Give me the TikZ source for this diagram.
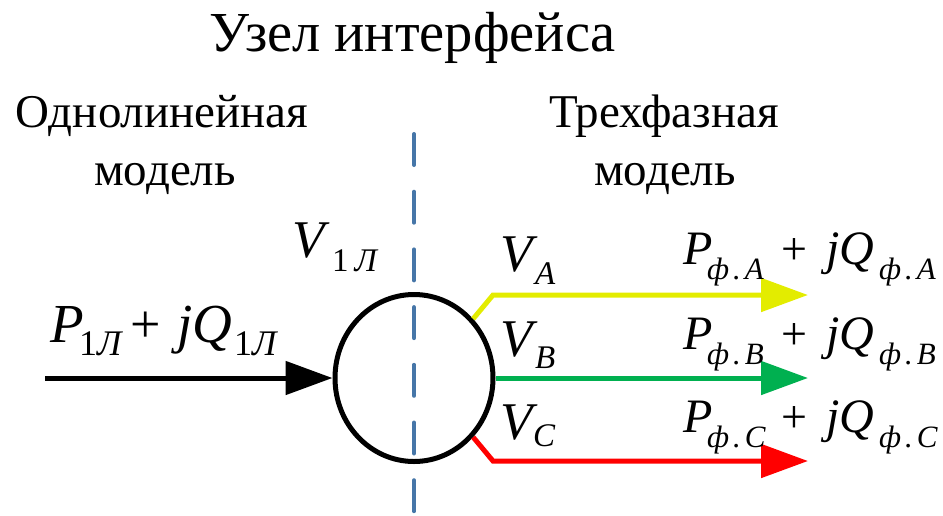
\documentclass[tikz,border=0pt]{standalone}
\usepackage{fontspec}
\setmainfont{Liberation Serif}
\newfontfamily\tnr{Liberation Serif}
\usetikzlibrary{arrows.meta,shapes.geometric}
\definecolor{phA}{HTML}{E3EC00}
\definecolor{phB}{HTML}{00B050}
\definecolor{phC}{HTML}{FF0000}
\definecolor{divblue}{HTML}{4676A8}
\begin{document}
\begin{tikzpicture}[x=1pt,y=-1pt,
  heading/.style={inner sep=0pt, anchor=base, font=\tnr\fontsize{56.5}{60}\selectfont},
  subhead/.style={inner sep=0pt, anchor=base, font=\tnr\fontsize{47}{50}\selectfont},
  vlab/.style={inner sep=0pt, anchor=base west, font=\tnr\fontsize{53}{58}\selectfont\itshape},
  vsub/.style={inner sep=0pt, anchor=base west, font=\tnr\fontsize{33}{36}\selectfont\itshape},
  plab/.style={inner sep=0pt, anchor=base west, font=\tnr\fontsize{48}{52}\selectfont\itshape},
  psub/.style={inner sep=0pt, anchor=base west, font=\tnr\fontsize{31}{34}\selectfont\itshape},
  llab/.style={inner sep=0pt, anchor=base west, font=\tnr\fontsize{55}{60}\selectfont\itshape},
  lsub/.style={inner sep=0pt, anchor=base west, font=\tnr\fontsize{36}{40}\selectfont\itshape},
  flow/.style={line width=5pt, -{Triangle[length=47pt,width=33pt]}}]
\useasboundingbox (0,0) rectangle (943,515);
% titles
\node[heading] (title) at (413,51) {Узел интерфейса};
\node[subhead] (left1) at (162,127) {Однолинейная};
\node[subhead] (left2) at (165,185) {модель};
\node[subhead] (right1) at (664,127) {Трехфазная};
\node[subhead] (right2) at (665,185) {модель};
% divider
\coordinate (dtop) at (414,134);
\coordinate (dbot) at (414,530);
\draw[divblue, line width=4pt, line cap=round, dash pattern=on 31pt off 26.7pt] (dtop) -- (dbot);
% node
\node[draw, ellipse, line width=5pt, inner sep=0pt, minimum width=158pt, minimum height=167pt] (hub) at (414,378) {};
% input
\coordinate (in) at (45,378);
\draw[flow, black] (in) -- (hub.west);
% outputs
\coordinate (ab) at (493,295);
\coordinate (ae) at (808,295);
\coordinate (be) at (808,378);
\coordinate (cb) at (493,461);
\coordinate (ce) at (808,461);
\draw[flow, phA] (hub.45) -- (ab) -- (ae);
\draw[flow, phB] (hub.east) -- (be);
\draw[flow, phC] (hub.-45) -- (cb) -- (ce);
% voltage labels
\node[vlab] (v1) at (292,257) {V};
\node[vsub] (v1s) at (332,271) {{\upshape 1}\kern6pt Л};
\node[vlab] (va) at (500,271) {V};
\node[vsub] (vas) at (535,284) {A};
\node[vlab] (vb) at (500,356) {V};
\node[vsub] (vbs) at (535,368) {B};
\node[vlab] (vc) at (500,439) {V};
\node[vsub] (vcs) at (533,446) {C};
% power labels
\foreach \r/\y in {A/264,B/349,C/432}{
  \node[plab] (p\r) at (683,\y) {P};
  \node[psub] (ps\r) at (707,\y+15) {ф\kern4pt.\kern4pt\r};
  \node[plab, anchor=base, font=\tnr\fontsize{46}{50}\selectfont] (plus\r) at (794,\y) {+};
  \node[plab] (q\r) at (826,\y) {jQ};
  \node[psub] (qs\r) at (879,\y+15) {ф\kern4pt.\kern4pt\r};
}
\node[llab] (pin) at (50,342) {P};
\node[lsub] (pins) at (79,355) {{\upshape 1}Л};
\node[llab, anchor=base, font=\tnr\fontsize{54}{60}\selectfont] (pinplus) at (146,342) {+};
\node[llab] (qin) at (177,342) {jQ};
\node[lsub] (qins) at (234,355) {{\upshape 1}Л};
\end{tikzpicture}
\end{document}
